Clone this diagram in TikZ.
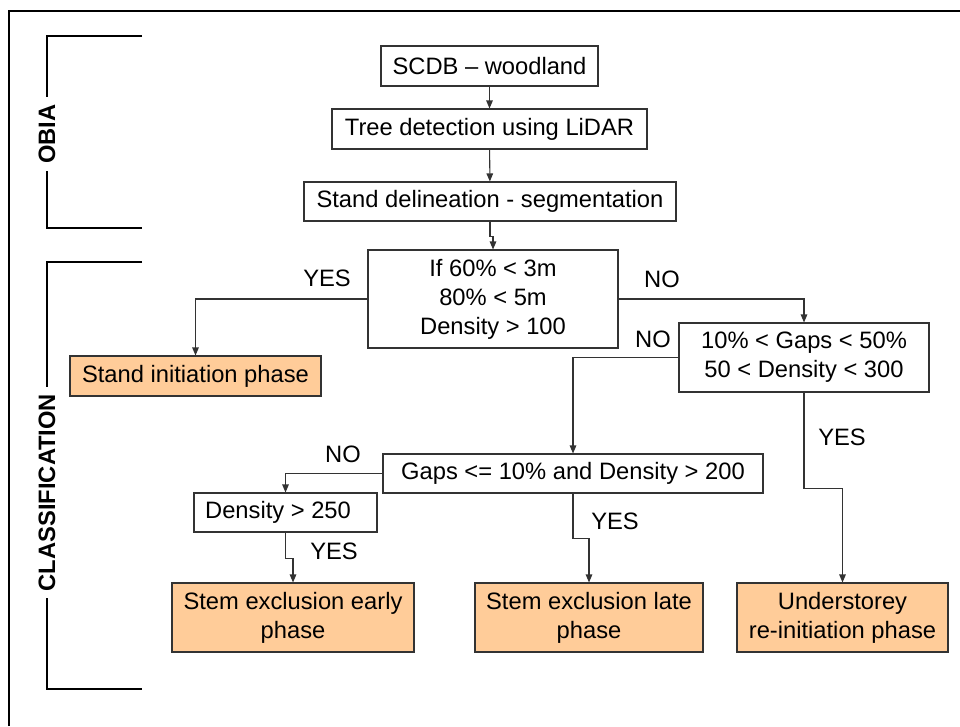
\documentclass[tikz,border=0pt]{standalone}
\usepackage{fontspec}
\setmainfont{Liberation Sans}
\usetikzlibrary{arrows.meta}
\definecolor{phaseorange}{RGB}{255,204,153}

\begin{document}
\begin{tikzpicture}[
    font=\fontsize{13.5}{16.5}\selectfont,
    box/.style={draw=black!80, line width=0.6pt, align=center, inner sep=0pt},
    phase/.style={box, fill=phaseorange},
    arr/.style={draw=black!80, line width=0.6pt, -{Triangle[length=1.6mm,width=1.3mm]}},
    lbl/.style={inner sep=0pt},
    side/.style={font=\fontsize{13.5}{16}\selectfont\bfseries, rotate=90, fill=white, inner xsep=4pt, inner ysep=1pt}
]
\useasboundingbox (0,0) rectangle (19.2,-14.52);

% Frame
\draw[line width=1.4pt] (0.18,-14.52) -- (0.18,-0.22) -- (19.2,-0.22);

% Brackets for the two stages
\draw[line width=1.1pt] (2.84,-0.72) -- (0.94,-0.72) -- (0.94,-4.56) -- (2.84,-4.56);
\node[side] (obia) at (0.94,-2.68) {OBIA};
\draw[line width=1.1pt] (2.84,-5.24) -- (0.94,-5.24) -- (0.94,-13.78) -- (2.84,-13.78);
\node[side] (classif) at (0.94,-9.85) {CLASSIFICATION};

% Segmentation steps
\node[box, minimum width=4.34cm, minimum height=0.8cm] (scdb) at (9.79,-1.32) {SCDB -- woodland};
\node[box, minimum width=6.3cm, minimum height=0.8cm] (tree) at (9.79,-2.58) {Tree detection using LiDAR};
\node[box, minimum width=7.44cm, minimum height=0.78cm] (stand) at (9.8,-4.03) {Stand delineation - segmentation};

% Rules
\node[box, minimum width=5cm, minimum height=1.96cm] (cond1) at (9.86,-5.98) {If 60\% < 3m\\80\% < 5m\\Density > 100};
\node[box, minimum width=5cm, minimum height=1.38cm] (cond2) at (16.08,-7.15) {10\% < Gaps < 50\%\\50 < Density < 300};
\node[box, minimum width=7.6cm, minimum height=0.78cm] (cond3) at (11.46,-9.47) {Gaps <= 10\% and Density > 200};
\node[box, minimum width=3.66cm, minimum height=0.78cm] (cond4) at (5.71,-10.25) {Density > 250\hspace{0.3cm}};

% Phases
\node[phase, minimum width=5.02cm, minimum height=0.8cm] (init) at (3.91,-7.52) {Stand initiation phase};
\node[phase, minimum width=4.84cm, minimum height=1.38cm] (early) at (5.86,-12.35) {Stem exclusion early\\phase};
\node[phase, minimum width=4.56cm, minimum height=1.38cm] (late) at (11.78,-12.35) {Stem exclusion late\\phase};
\node[phase, minimum width=4.22cm, minimum height=1.38cm] (under) at (16.85,-12.35) {Understorey\\re-initiation phase};

% Connectors
\draw[arr] (scdb) -- (tree);
\draw[arr] (tree) -- (stand);
\draw[arr] (stand.south) -- ++(0,-0.3) -| (cond1.north);
\draw[arr] (cond1.west) -| (init.north);
\draw[arr] (cond1.east) -| (cond2.north);
\draw[arr] (cond2.west) -| (cond3.north);
\draw[arr] (cond2.south) -- ++(0,-1.92) -| (under.north);
\draw[arr] (cond3.west) -| (cond4.north);
\draw[arr] (cond3.south) -- ++(0,-0.9) -| (late.north);
\draw[arr] (cond4.south) -- ++(0,-0.52) -| (early.north);

% Decision labels
\node[lbl] (yes1) at (6.54,-5.56) {YES};
\node[lbl] (no1) at (13.24,-5.58) {NO};
\node[lbl] (no2) at (13.06,-6.78) {NO};
\node[lbl] (yes2) at (16.84,-8.74) {YES};
\node[lbl] (no3) at (6.86,-9.08) {NO};
\node[lbl] (yes3) at (12.3,-10.42) {YES};
\node[lbl] (yes4) at (6.68,-11.02) {YES};

\end{tikzpicture}
\end{document}
